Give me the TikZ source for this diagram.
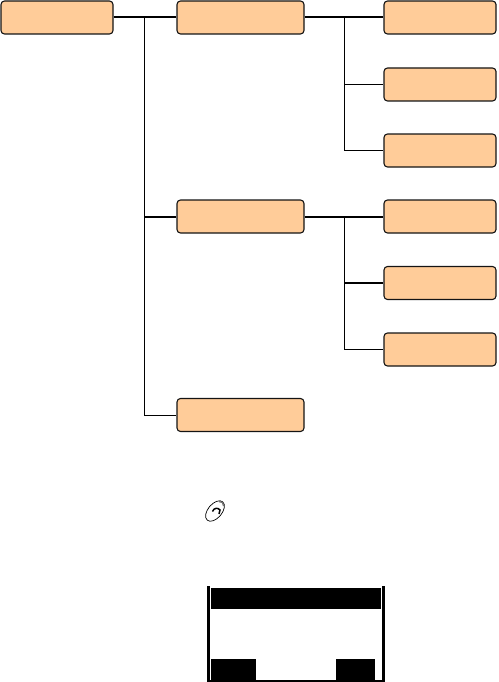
\documentclass[tikz,border=0pt]{standalone}
\usetikzlibrary{positioning}
\definecolor{menuFill}{RGB}{255,204,153}
\definecolor{menuEdge}{RGB}{20,20,20}
\tikzset{
  menubox/.style={rounded corners=3.5pt, fill=menuFill, draw=menuEdge, line width=1.1pt,
    minimum height=33pt, inner sep=0pt},
  wideitem/.style={menubox, minimum width=127pt},
  narrowitem/.style={menubox, minimum width=112pt},
  thinlink/.style={line width=1pt},
  thicklink/.style={line width=2pt, yshift=-0.5pt},
  solid block/.style={fill=black, draw=none, inner sep=0pt, anchor=north west}
}
\begin{document}
\begin{tikzpicture}[x=1pt,y=-1pt]
    \useasboundingbox (0,0) rectangle (498,682);
    % menu tree
    \node[narrowitem] (root) at (57,17.5) {};
    \node[wideitem] (calls) at (240.5,17.5) {};
    \node[wideitem] (tones) at (240.5,216.5) {};
    \node[wideitem] (extras) at (240.5,415) {};
    \node[narrowitem] (callsA) at (440,17.5) {};
    \node[narrowitem] (callsB) at (440,84.5) {};
    \node[narrowitem] (callsC) at (440,150.5) {};
    \node[narrowitem] (tonesA) at (440,216.5) {};
    \node[narrowitem] (tonesB) at (440,283) {};
    \node[narrowitem] (tonesC) at (440,349.5) {};
    \coordinate (rootBus) at (144.5,17.5);
    \coordinate (callsBus) at (344.5,17.5);
    \coordinate (tonesBus) at (344.5,216.5);
    % links
    \draw[thinlink] (rootBus) |- (extras);
    \draw[thicklink] (root) -- (calls);
    \draw[thicklink] (rootBus |- tones) -- (tones);
    \draw[thinlink] (callsBus) |- (callsC);
    \draw[thinlink] (callsBus |- callsB) -- (callsB);
    \draw[thicklink] (calls) -- (callsA);
    \draw[thinlink] (tonesBus) |- (tonesC);
    \draw[thicklink] (tones) -- (tonesA);
    \draw[thicklink] (tonesBus |- tonesB) -- (tonesB);
    % key icon
    \draw[line width=0.7pt, rotate around={-40:(215,511)}] (215,511) ellipse (7pt and 12pt);
    \draw[line width=1.3pt, black!55] (219,501.5) .. controls (222,501.5) and (224,503) .. (223.5,506);
    \draw[line width=1.5pt] (212.5,511.5) .. controls (214,507.5) and (218,507.5) .. (220,510) -- (219,514);
    % phone screen
    \node[solid block, minimum width=3pt, minimum height=95.5pt] (bezelL) at (207,586) {};
    \node[solid block, minimum width=3pt, minimum height=95.5pt] (bezelR) at (382,586) {};
    \node[solid block, minimum width=178pt, minimum height=1.5pt] (bezelB) at (207,680) {};
    \node[solid block, minimum width=170pt, minimum height=21pt] (titleBar) at (211,588) {};
    \node[solid block, minimum width=45pt, minimum height=21pt] (softL) at (211,659) {};
    \node[solid block, minimum width=39pt, minimum height=21pt] (softR) at (336,659) {};
\end{tikzpicture}
\end{document}
